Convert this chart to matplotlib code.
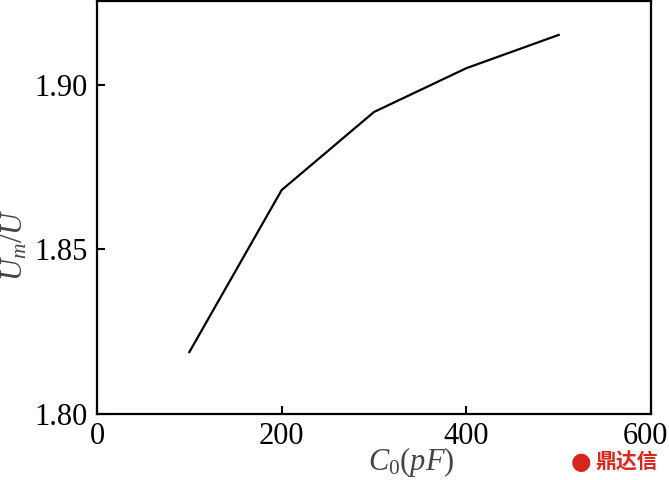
import matplotlib
matplotlib.use("Agg")
import matplotlib.pyplot as plt
import matplotlib.transforms as mtransforms

c0 = [100, 200, 300, 400, 500]
ratio = [1.8188, 1.8680, 1.8917, 1.9050, 1.9151]
xticks = [0, 200, 400, 600]
yticks = [1.80, 1.85, 1.90]
ytick_labels = ["1.80", "1.85", "1.90"]

plt.rcParams['font.family'] = ['Liberation Serif', 'DejaVu Serif']
plt.rcParams['mathtext.fontset'] = 'custom'
plt.rcParams['mathtext.rm'] = 'Liberation Serif'
plt.rcParams['mathtext.it'] = 'Liberation Serif:italic'

fig = plt.figure(figsize=(6.69, 4.8), dpi=100)
ax = fig.add_axes([97/669, 1 - 414/480, (651-97)/669, (414-1)/480])
ax.plot(c0, ratio, color='black', lw=1.6)
ax.set_xlim(0, 600)
ax.set_ylim(1.80, 1.9254)
ax.set_xticks(xticks)
ax.set_xticklabels([str(v) for v in xticks])
ax.set_yticks(yticks)
ax.set_yticklabels(ytick_labels)
ax.tick_params(direction='in', length=6, width=1.5, labelsize=22, top=False, right=False)
ax.tick_params(axis='y', pad=7)
ax.tick_params(axis='x', pad=6)
for s in ax.spines.values():
    s.set_linewidth(1.6)

last = ax.get_xticklabels()[-1]
last.set_transform(last.get_transform() + mtransforms.ScaledTranslation(-6/100, 0, fig.dpi_scale_trans))

fig.text(411/669, 1 - 462/480, r'$C_\mathrm{0}(pF)$', fontsize=22, color='#444444', ha='center', va='center')
fig.text(15/669, 1 - 245/480, r'$U_m/U$', fontsize=22, color='#444444', ha='center', va='center', rotation=90)

fig.text(581/669, 1 - 462/480, '●', fontsize=17, color='#d9261c',
         family=['DejaVu Sans'], ha='center', va='center')
fig.text(595/669, 1 - 462/480, '鼎达信', fontsize=15, color='#d9261c', fontweight='bold',
         family=['Noto Sans CJK SC', 'DejaVu Sans'], ha='left', va='center')

fig.savefig('out.png', dpi=100)
